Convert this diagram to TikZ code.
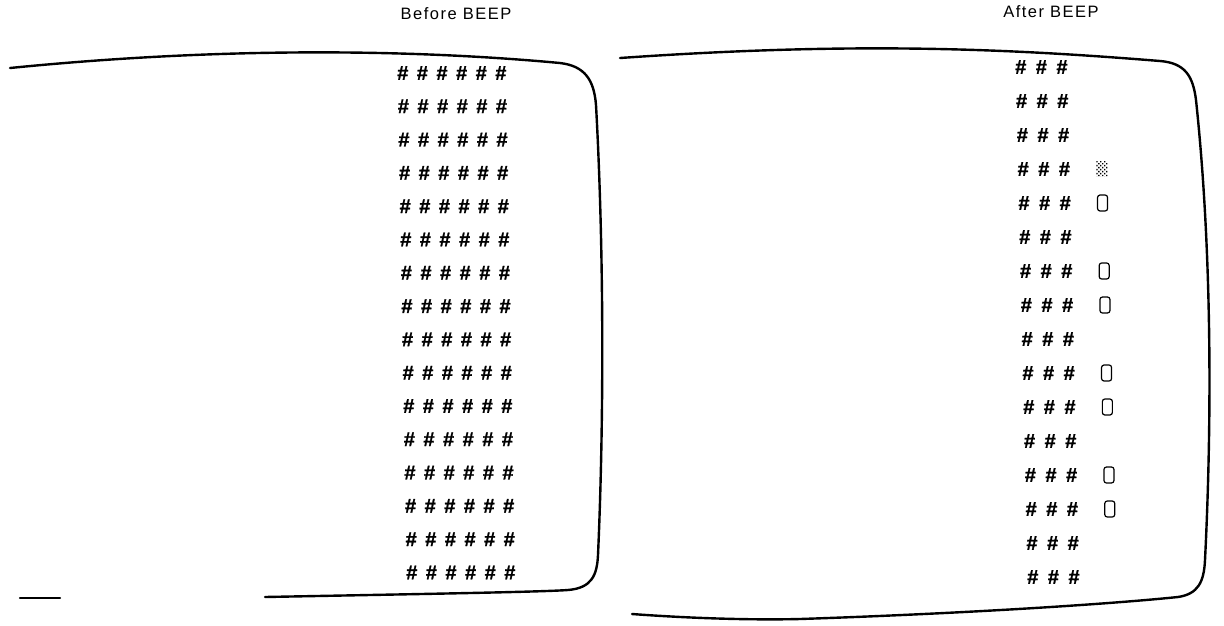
\documentclass[tikz,border=0pt]{standalone}
\usepackage{fontspec}
\setmainfont{Liberation Sans}
\usepackage{tikz}
\usetikzlibrary{positioning,patterns.meta}
\newcommand{\hashsix}{\#\hskip8.5pt\#\hskip8.5pt\#\hskip8.5pt\#\hskip8.5pt\#\hskip8.5pt\#}
\newcommand{\hashthree}{\#\hskip9.5pt\#\hskip9.5pt\#}

\begin{document}
\begin{tikzpicture}[
    x=1pt,y=-1pt,
    screen/.style={line width=2.4pt,line cap=round,line join=round},
    caption/.style={inner sep=0pt,font=\fontsize{16.5}{18}\selectfont\addfontfeature{LetterSpace=9}},
    hashes/.style={anchor=west,inner sep=0pt,font=\fontsize{20}{20}\selectfont\bfseries\addfontfeature{FakeBold=1.2}},
    blip/.style={draw,rounded corners=2.5pt,line width=1.2pt,minimum width=10pt,minimum height=16pt,inner sep=0pt},
    fuzz/.style={pattern={Dots[distance=2.8pt,radius=0.95pt,angle=45]},pattern color=black,minimum width=11pt,minimum height=15pt,inner sep=0pt}
]
\useasboundingbox (0,0) rectangle (1224,625);

\node[caption] (before) at (456,14) {Before BEEP};
\node[caption] (after) at (1051,12) {After BEEP};

% left screen
\draw[screen] (265,597) .. controls (420,594) and (540,592) .. (568,590)
  .. controls (592,588) and (597,575) .. (598,555)
  .. controls (604,420) and (604,250) .. (596,105)
  .. controls (594,80) and (585,66) .. (560,63)
  .. controls (420,50) and (230,46) .. (10,68);
\draw[screen] (20,598) -- (60,598);

% right screen
\draw[screen] (632,614) .. controls (700,619) and (760,620) .. (800,619)
  .. controls (950,614) and (1100,605) .. (1178,597)
  .. controls (1198,594) and (1204,582) .. (1205,560)
  .. controls (1212,420) and (1212,250) .. (1196,100)
  .. controls (1193,76) and (1185,63) .. (1160,61)
  .. controls (1000,48) and (850,42) .. (620,58);

\foreach \r in {1,...,16} {
  \node[hashes] (L\r) at ({397+0.6*(\r-1)},{73+33.3*(\r-1)}) {\hashsix};
  \node[hashes] (R\r) at ({1015+0.8*(\r-1)},{67+34*(\r-1)}) {\hashthree};
}

\node[fuzz,right=26pt of R4] (f4) {};
\node[blip,right=26pt of R5] (b5) {};
\node[blip,right=26pt of R7] (b7) {};
\node[blip,right=26pt of R8] (b8) {};
\node[blip,right=26pt of R10] (b10) {};
\node[blip,right=26pt of R11] (b11) {};
\node[blip,right=26pt of R13] (b13) {};
\node[blip,right=26pt of R14] (b14) {};
\end{tikzpicture}
\end{document}
